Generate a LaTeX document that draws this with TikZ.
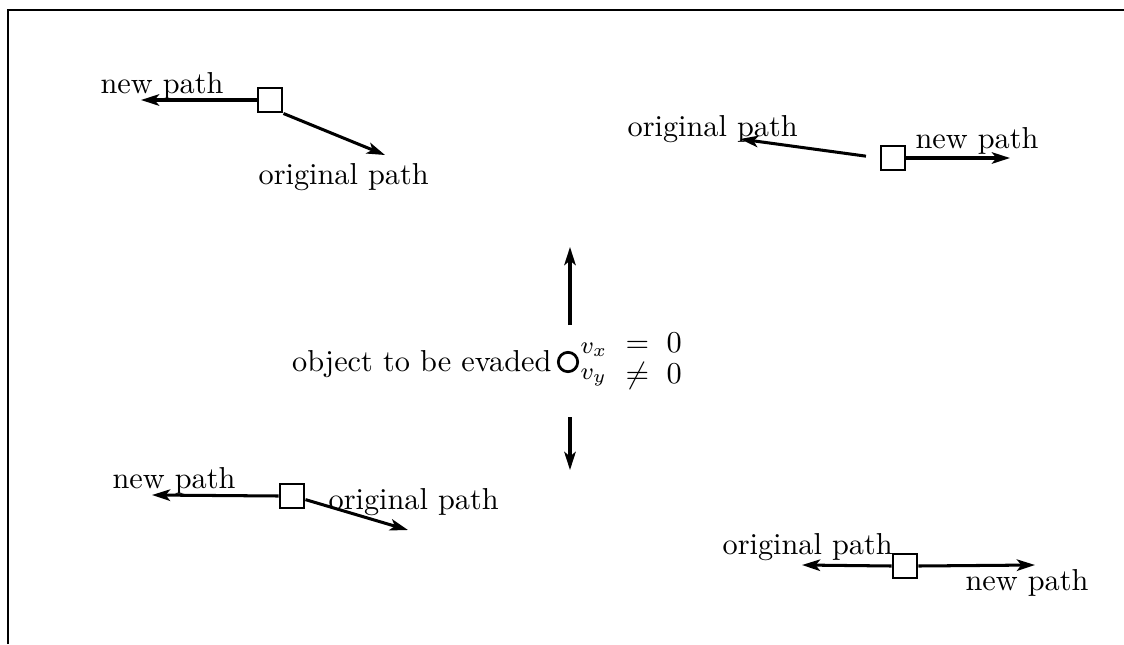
\documentclass[tikz,border=0pt]{standalone}
\usetikzlibrary{arrows.meta}
\begin{document}
\begin{tikzpicture}[x=0.33pt,y=-0.33pt,
  sqbox/.style={draw, line width=0.9pt, minimum size=8pt, inner sep=0pt},
  arr/.style={line width=1pt, -{Stealth[length=6pt,width=3.8pt,inset=1.5pt]}},
  lbl/.style={inner sep=0pt, font=\normalsize},
  mth/.style={inner sep=0pt}]
\useasboundingbox (0,0) rectangle (1124,644);
% frame
\draw[line width=0.9pt] (8,644) -- (8,10) -- (1124,10);

% group top-left
\node[sqbox] (s1) at (270,100) {};
\coordinate (t1a) at (141,100);
\coordinate (t1b) at (385,155);
\draw[arr] (s1.west) -- (t1a);
\draw[arr] (s1.south east) -- (t1b);
\node[lbl, anchor=base west] (l1a) at (100,93) {new path};
\node[lbl, anchor=base west] (l1b) at (258,184) {original path};

% group top-right
\node[sqbox] (s2) at (893,158) {};
\coordinate (t2a) at (1010,158);
\coordinate (t2b) at (740,139);
\draw[arr] (s2.east) -- (t2a);
\draw[arr, shorten <=4.5pt] (s2.west) -- (t2b);
\node[lbl, anchor=base west] (l2a) at (915,148) {new path};
\node[lbl, anchor=base west] (l2b) at (627,136) {original path};

% group bottom-left
\node[sqbox] (s4) at (292,496) {};
\coordinate (t4a) at (152,495);
\coordinate (t4b) at (408,530);
\draw[arr] (s4.west) -- (t4a);
\draw[arr] (s4.-15) -- (t4b);
\node[lbl, anchor=base west] (l4a) at (112,488) {new path};
\node[lbl, anchor=base west] (l4b) at (328,509) {original path};

% group bottom-right
\node[sqbox] (s5) at (905,566) {};
\coordinate (t5a) at (802,565);
\coordinate (t5b) at (1035,565);
\draw[arr] (s5.west) -- (t5a);
\draw[arr] (s5.east) -- (t5b);
\node[lbl, anchor=base west] (l5a) at (722,554) {original path};
\node[lbl, anchor=base west] (l5b) at (965,590) {new path};

% central object
\node[draw, circle, line width=0.9pt, minimum size=6.4pt, inner sep=0pt] (obj) at (568,362) {};
\node[lbl, anchor=base east] (objl) at (552,371) {object to be evaded};
\coordinate (u0) at (570,325);
\coordinate (u1) at (570,247);
\coordinate (d0) at (570,417);
\coordinate (d1) at (570,470);
\draw[arr] (u0) -- (u1);
\draw[arr] (d0) -- (d1);
\node[mth, anchor=west, font=\footnotesize] (vx) at (580,350) {$v_x$};
\node[mth, anchor=west, font=\footnotesize] (vy) at (580,378) {$v_y$};
\node[mth, anchor=west] (eqs) at (625,362)
  {\renewcommand{\arraystretch}{0.85}$\begin{array}{@{}c@{\hspace{5.8pt}}c@{}} = & 0\\ \neq & 0\end{array}$};
\end{tikzpicture}
\end{document}
